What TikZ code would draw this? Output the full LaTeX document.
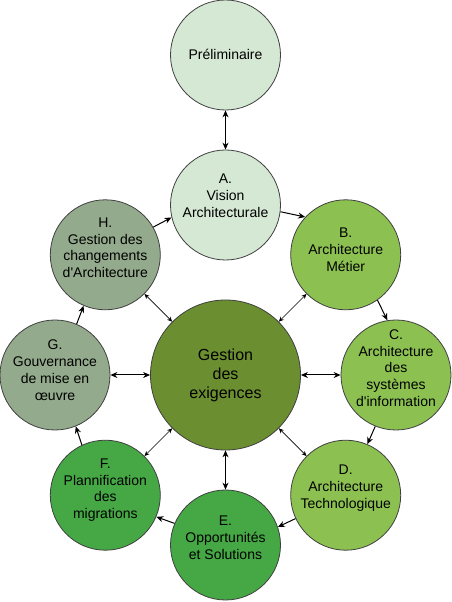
\documentclass[tikz,border=0pt]{standalone}
\usepackage{fontspec}
\setmainfont{Liberation Sans}
\usetikzlibrary{arrows.meta}

\definecolor{palegreen}{HTML}{D5E8D4}
\definecolor{leafgreen}{HTML}{8CC152}
\definecolor{olivegreen}{HTML}{6B8E30}
\definecolor{grassgreen}{HTML}{45A845}
\definecolor{sagegreen}{HTML}{93AA8C}

\begin{document}
\begin{tikzpicture}[x=1pt,y=1pt,
        phasenode/.style={circle,draw=black!75,line width=0.8pt,minimum size=110pt,inner sep=0pt},
        phasetext/.style={align=center,inner sep=0pt,font=\fontsize{14}{16.8}\selectfont},
        cyclearrow/.style={line width=1pt,-{Stealth[length=7pt,width=6pt]}},
        twoway/.style={line width=1pt,{Stealth[length=7pt,width=6pt]}-{Stealth[length=7pt,width=6pt]}},
        spokearrow/.style={line width=0.7pt,{Stealth[length=5pt,width=4.5pt]}-{Stealth[length=5pt,width=4.5pt]}}]
        \useasboundingbox (0,0) rectangle (451,602);

        \node[phasenode,fill=olivegreen,minimum size=150pt] (core) at (225.5,227) {};
        \node[phasetext,font=\fontsize{16}{19}\selectfont] (core-txt) at (core) {Gestion\\des\\exigences};

        \node[phasenode,fill=palegreen] (pre) at (225.5,547) {};
        \node[phasenode,fill=palegreen] (a) at (225.5,397) {};
        \node[phasenode,fill=leafgreen] (b) at (345.7,347.2) {};
        \node[phasenode,fill=leafgreen] (c) at (396,227) {};
        \node[phasenode,fill=leafgreen] (d) at (345.7,106.8) {};
        \node[phasenode,fill=grassgreen] (e) at (225.5,57) {};
        \node[phasenode,fill=grassgreen] (f) at (105.3,106.8) {};
        \node[phasenode,fill=sagegreen] (g) at (55,227) {};
        \node[phasenode,fill=sagegreen] (h) at (105.3,347.2) {};

        % texts sit a little above the middle
        \node[phasetext] (pre-txt) at ([yshift=1pt]pre) {Préliminaire};
        \node[phasetext] (a-txt) at ([yshift=9pt]a) {A.\\Vision\\Architecturale};
        \node[phasetext] (b-txt) at ([yshift=5pt]b) {B.\\Architecture\\Métier};
        \node[phasetext] (c-txt) at ([yshift=7pt]c) {C.\\Architecture\\des\\systèmes\\d\textquotesingle information};
        \node[phasetext] (d-txt) at ([yshift=7pt]d) {D.\\Architecture\\Technologique};
        \node[phasetext] (e-txt) at ([yshift=7pt]e) {E.\\Opportunités\\et Solutions};
        \node[phasetext] (f-txt) at ([yshift=5pt]f) {F.\\Plannification\\des\\migrations};
        \node[phasetext] (g-txt) at ([yshift=5pt]g) {G.\\Gouvernance\\de mise en\\œuvre};
        \node[phasetext] (h-txt) at ([yshift=7pt]h) {H.\\Gestion des\\changements\\d\textquotesingle Architecture};

        % the cycle
        \draw[twoway] (pre.270)--(a.90);
        \draw[cyclearrow] (h.30)--(a.193);
        \draw[cyclearrow] (a.-7)--(b.137);
        \draw[cyclearrow] (b.305)--(c.99);
        \draw[cyclearrow] (c.248)--(d.67);
        \draw[cyclearrow] (d.205)--(e.19);
        \draw[cyclearrow] (e.157)--(f.337);
        \draw[cyclearrow] (f.115)--(g.292);
        \draw[cyclearrow] (g.67)--(h.247);

        % requirements in the middle
        \draw[spokearrow] (core.45)--(b.225);
        \draw[twoway] (core.0)--(c.180);
        \draw[spokearrow] (core.-45)--(d.135);
        \draw[twoway] (core.270)--(e.90);
        \draw[spokearrow] (core.225)--(f.45);
        \draw[twoway] (core.180)--(g.0);
        \draw[spokearrow] (core.135)--(h.-45);

\end{tikzpicture}
\end{document}
